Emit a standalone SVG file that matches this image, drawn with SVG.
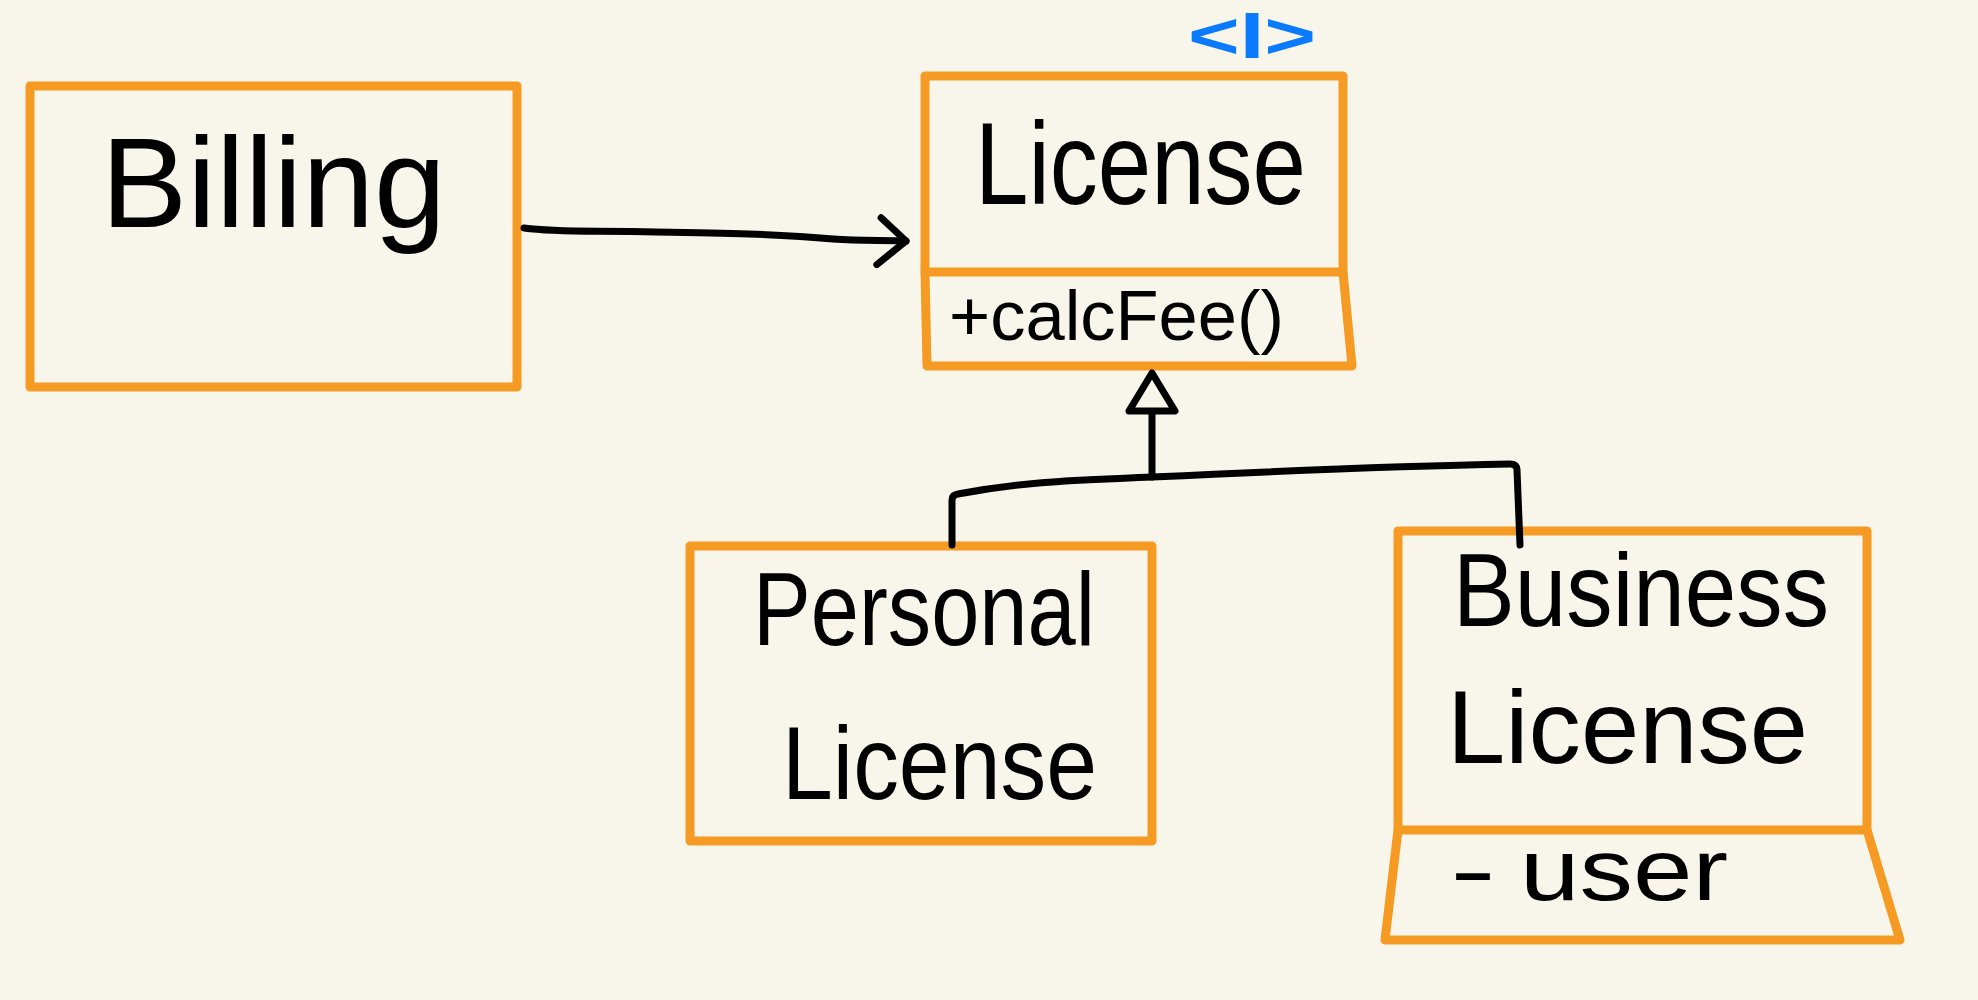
<svg xmlns="http://www.w3.org/2000/svg" width="1978" height="1000" viewBox="0 0 1978 1000">
  <style>
    .box { fill: none; stroke: #F59B23; stroke-width: 9; stroke-linejoin: round; stroke-linecap: round; }
    .conn { fill: none; stroke: #000; stroke-width: 7; stroke-linecap: round; stroke-linejoin: round; }
    .lbl { font-family: "Liberation Sans", Arial, sans-serif; fill: #000; }
    .stereo { font-family: "Liberation Sans", Arial, sans-serif; fill: #0A7BFF; font-weight: bold; }
  </style>
  <defs>
    <marker id="open" markerUnits="userSpaceOnUse" viewBox="-40 -40 80 80" refX="0" refY="0" markerWidth="80" markerHeight="80" orient="auto" overflow="visible">
      <path d="M-26,-22 L0,0 L-28,25" fill="none" stroke="#000" stroke-width="7" stroke-linecap="round" stroke-linejoin="round"/>
    </marker>
    <marker id="tri" markerUnits="userSpaceOnUse" viewBox="-10 -40 80 80" refX="0" refY="0" markerWidth="80" markerHeight="80" orient="auto" overflow="visible">
      <path d="M0,-23 L38,0 L0,23 Z" fill="#F8F6EA" stroke="#000" stroke-width="7" stroke-linejoin="round"/>
    </marker>
  </defs>
  <rect x="0" y="0" width="1978" height="1000" fill="#F8F6EA"/>

  <g id="billing">
    <rect class="box" x="30" y="86" width="487" height="301"/>
    <text class="lbl" x="101" y="227" font-size="128" textLength="345" lengthAdjust="spacingAndGlyphs">Billing</text>
  </g>

  <g id="license">
    <text class="stereo" x="1188" y="58" font-size="64" textLength="128" lengthAdjust="spacingAndGlyphs">&lt;I&gt;</text>
    <path class="box" d="M925,76 L1343,76 L1343,272 L925,272 Z"/>
    <path class="box" d="M925,272 L927,366 L1352,366 L1343,272"/>
    <text class="lbl" x="975" y="204" font-size="116" textLength="331" lengthAdjust="spacingAndGlyphs">License</text>
    <text class="lbl" x="949" y="340" font-size="70" textLength="335" lengthAdjust="spacingAndGlyphs">+calcFee()</text>
  </g>

  <g id="personal-license">
    <rect class="box" x="690" y="546" width="462" height="295"/>
    <text class="lbl" x="753" y="645" font-size="104" textLength="342" lengthAdjust="spacingAndGlyphs">Personal</text>
    <text class="lbl" x="782" y="799" font-size="104" textLength="315" lengthAdjust="spacingAndGlyphs">License</text>
  </g>

  <g id="business-license">
    <path class="box" d="M1398,531 L1867,531 L1867,830 L1398,830 Z"/>
    <path class="box" d="M1398,830 L1385,940 L1900,940 L1867,830"/>
    <text class="lbl" x="1453" y="626" font-size="104" textLength="376" lengthAdjust="spacingAndGlyphs">Business</text>
    <text class="lbl" x="1447" y="763" font-size="104" textLength="361" lengthAdjust="spacingAndGlyphs">License</text>
    <text class="lbl" y="900" font-size="88"><tspan x="1450" textLength="46" lengthAdjust="spacingAndGlyphs">-</tspan><tspan x="1520" textLength="208" lengthAdjust="spacingAndGlyphs">user</tspan></text>
  </g>

  <g id="connectors">
    <path class="conn" d="M524,228 C560,233 600,230 656,232 C720,233 780,234 833,239 C860,241 885,240 906,241" marker-end="url(#open)"/>
    <path class="conn" d="M952,545 L952,500 Q952,495 958,494 C1030,480 1090,480 1152,477 C1300,470 1400,466 1510,464 Q1517,464 1517,470 L1520,545"/>
    <path class="conn" d="M1152,477 L1152,411" marker-end="url(#tri)"/>
  </g>
</svg>
